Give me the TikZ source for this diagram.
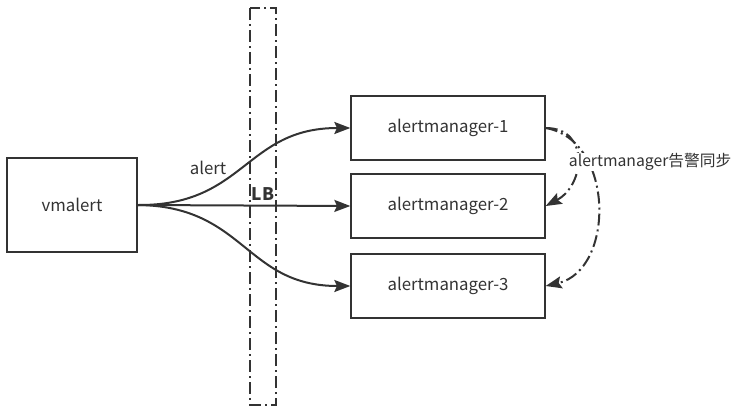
\documentclass[tikz,border=0pt]{standalone}
\usepackage{fontspec}
\setmainfont{Noto Sans CJK SC}
\usepackage{xcolor}
\definecolor{lgray}{RGB}{51,51,51}
\usetikzlibrary{arrows.meta,positioning}

\begin{document}
\begin{tikzpicture}[
  x=0.75pt,y=-0.75pt,
  box/.style={draw=lgray,line width=1.5pt,minimum width=145pt,minimum height=48pt,font=\fontsize{12.6}{14}\selectfont,text=lgray},
  src/.style={box,minimum width=97pt,minimum height=70pt},
  link/.style={draw=lgray,line width=1.5pt,-{Stealth[length=12pt,width=9pt,inset=2pt]}},
  sync/.style={link,dash pattern=on 9pt off 3pt on 1.5pt off 3pt},
  lbline/.style={draw=lgray,line width=1.5pt,dash pattern=on 9pt off 3pt on 1.5pt off 3pt},
  lbl/.style={font=\fontsize{12.6}{14}\selectfont,text=lgray,inner sep=1pt}
]
  \useasboundingbox (0,0) rectangle (737,417);
  % Load balancer
  \draw[lbline] (250,8) rectangle (276,405);
  \node[lbl,font=\fontsize{13}{14}\selectfont\bfseries] (lb) at (263,194) {LB};
  % Boxes
  \node[src] (vm) at (72,205) {vmalert};
  \node[box] (am1) at (448,128) {alertmanager-1};
  \node[box] (am2) at (448,206) {alertmanager-2};
  \node[box] (am3) at (448,286) {alertmanager-3};
  % Alerts
  \draw[link] (vm.east) .. controls (245,206) and (245,128) .. (am1.west);
  \draw[link] (vm.east) -- (am2.west);
  \draw[link] (vm.east) .. controls (245,206) and (245,286) .. (am3.west);
  \node[lbl] (alert) at (208,168) {alert};
  % Sync
  \draw[sync] (am1.east) .. controls (590,128) and (585,185) .. (am2.east);
  \draw[sync] (am1.east) .. controls (615,140) and (615,270) .. (am3.east);
  \node[lbl,font=\fontsize{11.8}{14}\selectfont,fill=white,inner sep=0.5pt,anchor=west] (syn) at (568,162) {alertmanager告警同步};
\end{tikzpicture}
\end{document}
